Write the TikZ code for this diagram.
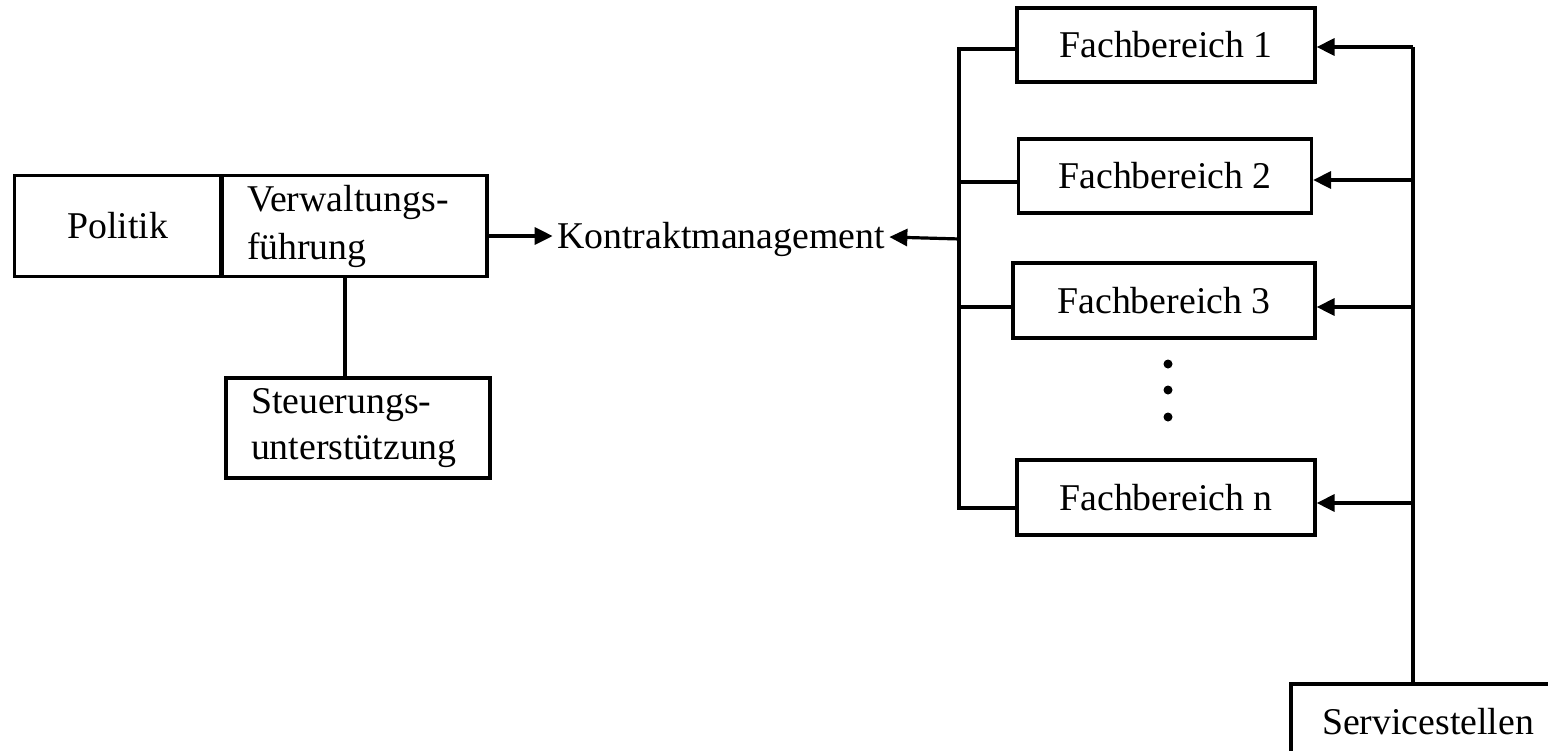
\documentclass[tikz,border=0pt]{standalone}
\usepackage{fontspec}
\setmainfont{Liberation Serif}
\usetikzlibrary{arrows.meta}
\begin{document}
\begin{tikzpicture}[x=1pt,y=-1pt,
  font=\fontsize{37.8}{48}\selectfont,
  line width=3.2pt,
  box/.style={draw,rectangle,inner sep=0pt,align=center},
  lbox/.style={draw,rectangle,inner xsep=25pt,inner ysep=0pt,align=left},
  arr/.style={-{Triangle[length=18pt,width=17pt]}},
  dot/.style={circle,fill,inner sep=0pt,minimum size=9pt}]
\useasboundingbox (0,0) rectangle (1548,750);
% left group
\node[box,minimum width=206pt,minimum height=101pt] (pol) at (117.5,226) {Politik};
\node[lbox,minimum width=265pt,minimum height=101pt,text width=215pt] (verw) at (354.5,226) {Verwaltungs-\\führung};
\node[lbox,minimum width=264pt,minimum height=100pt,text width=214pt,font=\fontsize{37.8}{46}\selectfont] (steu) at (358,428) {Steuerungs-\\unterstützung};
\draw (verw.south -| 345,0) -- (steu.north -| 345,0);
% center
\node[inner sep=3pt] (kon) at (721,239) {Kontraktmanagement};
\draw[arr] (verw.east |- 0,236) -- (kon.west |- 0,236);
\coordinate (kin) at (960,239);
\draw[arr] (kin) -- (kon.east |- 0,237);
% right group
\node[box,minimum width=298pt,minimum height=74pt] (fb1) at (1166,45) {Fachbereich 1};
\node[box,minimum width=293pt,minimum height=74pt] (fb2) at (1165,176) {Fachbereich 2};
\node[box,minimum width=302pt,minimum height=75pt] (fb3) at (1164,300.5) {Fachbereich 3};
\node[box,minimum width=298pt,minimum height=75pt] (fbn) at (1166,497.5) {Fachbereich n};
\node[dot] (d1) at (1168,364) {};
\node[dot] (d2) at (1168,390) {};
\node[dot] (d3) at (1168,417) {};
% left bus
\coordinate (l1) at (959,49);
\coordinate (l2) at (959,182);
\coordinate (l3) at (959,307);
\coordinate (ln) at (959,508);
\draw (fb1.west |- l1) -- (l1) -- (ln) -- (fbn.west |- ln);
\draw (l2) -- (fb2.west |- l2);
\draw (l3) -- (fb3.west |- l3);
% right bus
\begin{scope}
\clip (0,0) rectangle (1548,750);
\node[box,minimum width=274pt,minimum height=76pt] (serv) at (1428,722) {Servicestellen};
\end{scope}
\coordinate (r1) at (1413,47);
\coordinate (r2) at (1413,180);
\coordinate (r3) at (1413,307);
\coordinate (rn) at (1413,503);
\draw (r1) -- (serv.north -| r1);
\draw[arr] (r1) -- (fb1.east |- r1);
\draw[arr] (r2) -- (fb2.east |- r2);
\draw[arr] (r3) -- (fb3.east |- r3);
\draw[arr] (rn) -- (fbn.east |- rn);
\end{tikzpicture}
\end{document}
